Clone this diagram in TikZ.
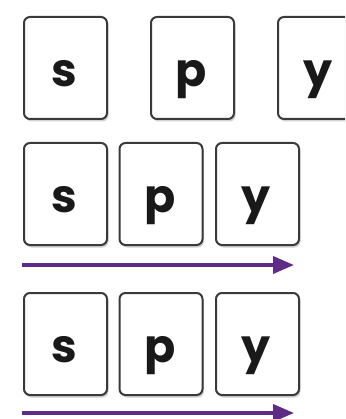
\documentclass[tikz,border=0pt]{standalone}
\usepackage{fontspec}
\newfontfamily\cardfont{Poppins}
\usetikzlibrary{arrows.meta,shadows}
\definecolor{cardedge}{HTML}{3A3A3A}
\definecolor{arrowpurple}{HTML}{5E2B87}
\tikzset{
  card/.style={draw=cardedge, line width=2pt, fill=white, rounded corners=6pt,
    minimum width=83pt, minimum height=102pt, inner sep=0pt, anchor=north west,
    drop shadow={shadow xshift=1.5pt, shadow yshift=-2.5pt, opacity=0.18, fill=black}},
  letter/.style={anchor=base, inner sep=0pt, font=\cardfont\bfseries\fontsize{46}{46}\selectfont, text=black!90},
  flow/.style={draw=arrowpurple, line width=3.6pt, -{Triangle[length=21pt,width=17pt]}}
}
\begin{document}
\begin{tikzpicture}[x=1pt,y=-1pt]
\useasboundingbox (0,0) rectangle (345,419);
\clip (0,0) rectangle (345,419);
\fill[white] (0,0) rectangle (345,419);
% top row
\node[card] (c1) at (23,16) {};
\node[card] (c2) at (150,16) {};
\node[card] (c3) at (277,16) {};
\node[letter] (l1) at (64.5,87) {s};
\node[letter] (l2) at (191.5,87) {p};
\node[letter] (l3) at (318.5,87) {y};
% middle row
\node[card] (d1) at (23,142) {};
\node[card] (d2) at (118.5,142) {};
\node[card] (d3) at (215,142) {};
\node[letter] (m1) at (64.5,212) {s};
\node[letter] (m2) at (160,212) {p};
\node[letter] (m3) at (256.5,212) {y};
\coordinate (a1s) at (22,265);
\coordinate (a1e) at (294,265);
\draw[flow] (a1s) -- (a1e);
% bottom row
\node[card] (e1) at (23,292) {};
\node[card] (e2) at (118.5,292) {};
\node[card] (e3) at (215,292) {};
\node[letter] (b1) at (64.5,362) {s};
\node[letter] (b2) at (160,362) {p};
\node[letter] (b3) at (256.5,362) {y};
\coordinate (a2s) at (22,413);
\coordinate (a2e) at (294,413);
\draw[flow] (a2s) -- (a2e);
\end{tikzpicture}
\end{document}
